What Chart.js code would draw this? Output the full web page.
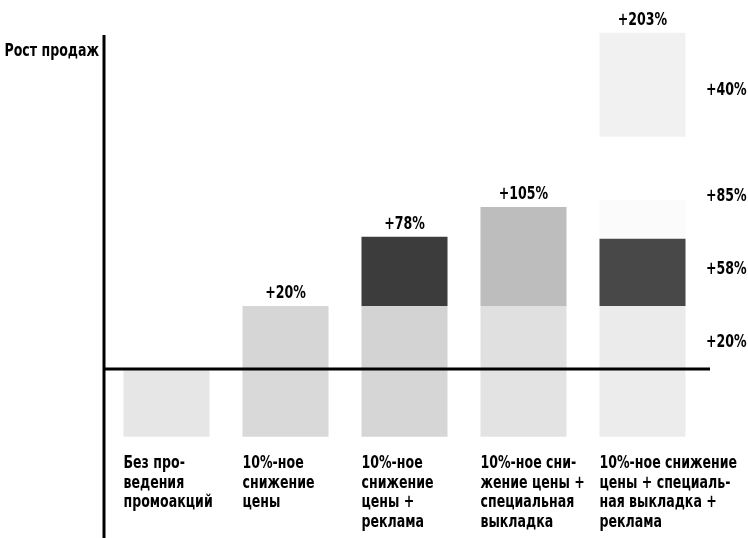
<!DOCTYPE html>
<html>
<head>
<meta charset="utf-8">
<script src="https://cdn.jsdelivr.net/npm/chart.js@4.4.0/dist/chart.umd.min.js"></script>
<style>
  html, body { margin: 0; padding: 0; background: #fff; }
  #wrap { width: 748px; height: 538px; }
</style>
</head>
<body>
<div id="wrap"><canvas id="salesChart" width="748" height="538"></canvas></div>
<script>
// categories (multi-line, as printed)
const categories = [
    ['Без про-', 'ведения', 'промоакций'],
    ['10%-ное', 'снижение', 'цены'],
    ['10%-ное', 'снижение', 'цены +', 'реклама'],
    ['10%-ное сни-', 'жение цены +', 'специальная', 'выкладка'],
    ['10%-ное снижение', 'цены + специаль-', 'ная выкладка +', 'реклама']
];
const totalLabels = ['', '+20%', '+78%', '+105%', '+203%'];

// drawn segment ranges (schematic units, 0 = axis line)
const baseSeg   = [[-21.5, 0], [-21.5, 0], [-21.5, 0], [-21.5, 0], [-21.5, 0]];
const priceSeg  = [null, [0, 20], [0, 20], [0, 20], [0, 20]];
const secondSeg = [null, null, [20, 42], [20, 51.4], [20, 41.3]];
const thirdSeg  = [null, null, null, null, [41.3, 53.7]];
const topSeg    = [null, null, null, null, [73.7, 106.7]];

// right-side increments for the last bar and their levels
const sideLabels = ['+40%', '+85%', '+58%', '+20%'];
const sideLevels = [88.3, 54.6, 31.7, 8.3];

const FONT = "bold 17px 'DejaVu Sans', sans-serif";
const SQUEEZE = 0.74;

// condensed text: squeeze horizontally
function drawText(ctx, t, x, y, align) {
    ctx.save();
    ctx.translate(x, y);
    ctx.scale(SQUEEZE, 1);
    ctx.textAlign = align;
    ctx.fillText(t, 0, 0);
    ctx.restore();
}

const textPlugin = {
    id: 'textPlugin',
    afterDatasetsDraw(chart) {
        const ctx = chart.ctx;
        const x = chart.scales.x, y = chart.scales.y;
        const area = chart.chartArea;
        const y0 = y.getPixelForValue(0);
        ctx.save();
        // axes
        ctx.strokeStyle = '#000';
        ctx.lineWidth = 3;
        ctx.beginPath();
        ctx.moveTo(area.left - 3, area.top + 5);
        ctx.lineTo(area.left - 3, chart.height);
        ctx.moveTo(area.left - 3, y0);
        ctx.lineTo(area.right + 8, y0);
        ctx.stroke();

        ctx.fillStyle = '#000';
        ctx.font = FONT;
        ctx.textBaseline = 'middle';
        // axis title
        drawText(ctx, 'Рост продаж', area.left - 8, 52, 'right');

        // totals above bars
        const meta = chart.getDatasetMeta(0);
        totalLabels.forEach((t, i) => {
            if (!t) return;
            let top = 0;
            [priceSeg, secondSeg, thirdSeg, topSeg].forEach(s => { if (s[i]) top = Math.max(top, s[i][1]); });
            drawText(ctx, t, x.getPixelForValue(i), y.getPixelForValue(top) - 12, 'center');
        });

        // side labels
        sideLabels.forEach((t, i) => {
            drawText(ctx, t, area.right + 4, y.getPixelForValue(sideLevels[i]), 'left');
        });

        // category labels, left aligned to bar edge
        ctx.textBaseline = 'alphabetic';
        categories.forEach((lines, i) => {
            const bar = meta.data[i];
            const left = bar.x - bar.width / 2;
            lines.forEach((ln, j) => {
                drawText(ctx, ln, left, 468 + j * 19.5, 'left');
            });
        });
        ctx.restore();
    }
};

const ctx = document.getElementById('salesChart').getContext('2d');
new Chart(ctx, {
    type: 'bar',
    data: {
        labels: categories.map(c => c.join(' ')),
        datasets: [
            { label: 'base', data: baseSeg,
              backgroundColor: ['#e6e6e6', '#d9d9d9', '#d6d6d6', '#e3e3e3', '#ececec'] },
            { label: 'price', data: priceSeg,
              backgroundColor: ['#fff', '#d6d6d6', '#d3d3d3', '#e0e0e0', '#ebebeb'] },
            { label: 'second', data: secondSeg,
              backgroundColor: ['#fff', '#fff', '#3c3c3c', '#bdbdbd', '#484848'] },
            { label: 'third', data: thirdSeg, backgroundColor: '#fbfbfb' },
            { label: 'top', data: topSeg, backgroundColor: '#f1f1f1' }
        ]
    },
    options: {
        responsive: false,
        animation: false,
        layout: { padding: { left: 107, right: 46, top: 30, bottom: 0 } },
        datasets: { bar: { categoryPercentage: 1, barPercentage: 0.723, borderWidth: 0 } },
        plugins: { legend: { display: false }, tooltip: { enabled: false } },
        scales: {
            x: { display: false, stacked: true },
            y: { display: false, min: -53.65, max: 107.6 }
        }
    },
    plugins: [textPlugin]
});
</script>
</body>
</html>
